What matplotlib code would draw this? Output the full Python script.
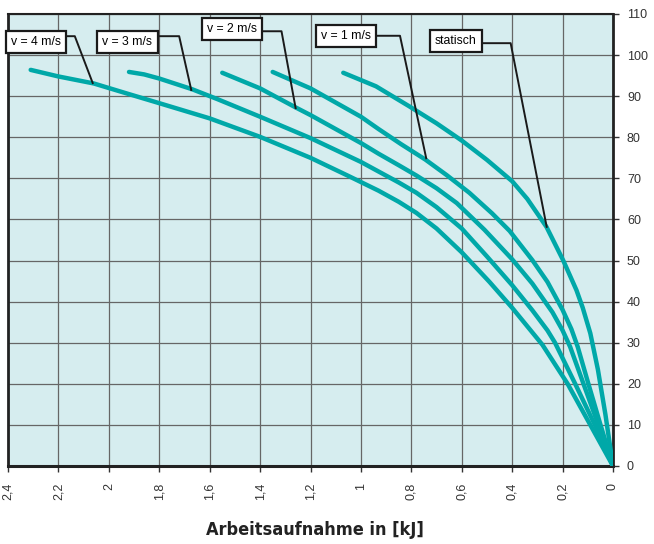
import matplotlib
matplotlib.use('Agg')
import matplotlib.pyplot as plt

# Kennlinien: Arbeitsaufnahme [kJ] / Kraft
v4_x = [2.31, 2.20, 2.06, 1.92, 1.80, 1.60, 1.40, 1.20, 1.05, 0.93, 0.85, 0.78, 0.70, 0.60,
        0.49, 0.40, 0.34, 0.28, 0.18, 0.09, 0.0]
v4_y = [96.4, 94.8, 93.1, 90.5, 88.3, 84.6, 80.1, 75.0, 70.6, 67.0, 64.3, 61.6, 57.8, 52.0,
        44.8, 38.5, 34.0, 29.5, 20.0, 10.0, 0.0]

v3_x = [1.92, 1.86, 1.80, 1.67, 1.57, 1.40, 1.20, 1.00, 0.85, 0.78, 0.70, 0.60, 0.50,
        0.40, 0.32, 0.26, 0.23, 0.15, 0.072, 0.0]
v3_y = [95.9, 95.3, 94.3, 91.7, 89.3, 85.0, 79.8, 74.0, 69.0, 66.5, 63.0, 57.8, 51.0,
        44.0, 37.9, 33.0, 30.0, 20.0, 10.0, 0.0]

v2_x = [1.55, 1.40, 1.26, 1.20, 1.00, 0.93, 0.85, 0.78, 0.70, 0.62, 0.51, 0.40, 0.32,
        0.24, 0.20, 0.17, 0.12, 0.058, 0.0]
v2_y = [95.7, 91.9, 87.3, 85.4, 78.6, 76.0, 73.2, 70.7, 67.6, 64.0, 57.5, 50.3, 44.4,
        37.4, 33.0, 29.0, 20.5, 10.0, 0.0]

v1_x = [1.35, 1.20, 1.00, 0.93, 0.84, 0.745, 0.66, 0.57, 0.48, 0.41, 0.32, 0.26, 0.20,
        0.165, 0.14, 0.10, 0.052, 0.0]
v1_y = [95.9, 91.9, 85.0, 82.0, 78.3, 74.6, 70.8, 66.5, 61.5, 57.2, 50.1, 44.8, 38.0,
        33.3, 29.0, 20.5, 10.5, 0.0]

st_x = [1.07, 0.94, 0.81, 0.70, 0.60, 0.50, 0.40, 0.34, 0.264, 0.198, 0.145, 0.12, 0.09,
        0.06, 0.03, 0.0]
st_y = [95.7, 92.4, 87.6, 83.4, 79.2, 74.5, 69.3, 65.0, 58.2, 50.1, 42.8, 38.5, 32.3,
        23.5, 12.5, 0.0]

curves = [(v4_x, v4_y), (v3_x, v3_y), (v2_x, v2_y), (v1_x, v1_y), (st_x, st_y)]

# Beschriftungen: Text, Boxmitte, Knick der Linie, Endpunkt auf der Kurve
labels = ['v = 4 m/s', 'v = 3 m/s', 'v = 2 m/s', 'v = 1 m/s', 'statisch']
box_pos = [(2.290, 103.2), (1.926, 103.2), (1.510, 106.3), (1.060, 104.6), (0.623, 103.4)]
knee_pos = [(2.135, 104.6), (1.721, 104.6), (1.315, 105.8), (0.845, 104.7), (0.406, 102.9)]
tip_pos = [(2.064, 93.2), (1.673, 91.5), (1.259, 87.1), (0.741, 74.9), (0.263, 58.2)]
box_right = [2.2, 1.85, 1.45, 1.0, 0.55]

xticks = [2.4, 2.2, 2.0, 1.8, 1.6, 1.4, 1.2, 1.0, 0.8, 0.6, 0.4, 0.2, 0.0]
xtick_labels = ['2,4', '2,2', '2', '1,8', '1,6', '1,4', '1,2', '1', '0,8', '0,6', '0,4', '0,2', '0']
yticks = list(range(0, 111, 10))

teal = '#00a8a8'

fig = plt.figure(figsize=(6.54, 5.44), dpi=100)
ax = fig.add_axes([8 / 654, 78 / 544, 605 / 654, 452 / 544])
ax.set_facecolor('#d6edef')

for cx, cy in curves:
    ax.plot(cx, cy, color=teal, lw=3.2, solid_capstyle='round', solid_joinstyle='round',
            zorder=3)

for txt, bp, kp, tp, br in zip(labels, box_pos, knee_pos, tip_pos, box_right):
    ax.plot([br, kp[0], tp[0]], [kp[1], kp[1], tp[1]], color='#1a1a1a', lw=1.4, zorder=4)
    ax.text(bp[0], bp[1], txt, ha='center', va='center', fontsize=8.8,
            family='Liberation Sans', zorder=5, clip_on=False,
            bbox=dict(boxstyle='square,pad=0.42', fc='white', ec='#1a1a1a', lw=1.6))

ax.set_xlim(2.4, 0)
ax.set_ylim(0, 110)
ax.set_xticks(xticks)
ax.set_xticklabels(xtick_labels, rotation=90, fontsize=9, family='Liberation Sans',
                   color='#333333')
ax.set_yticks(yticks)
ax.set_yticklabels([str(v) for v in yticks], fontsize=9, family='Liberation Sans',
                   color='#333333')
ax.yaxis.tick_right()
ax.tick_params(axis='y', direction='out', length=4, width=1, pad=6, color='#333333')
ax.tick_params(axis='x', direction='out', length=4, width=1, pad=8, color='#333333')
ax.grid(True, color='#666666', lw=0.9)
ax.set_axisbelow(True)
for s in ax.spines.values():
    s.set_color('#222222')
    s.set_linewidth(1.5)
ax.spines['bottom'].set_linewidth(2.2)
ax.spines['left'].set_linewidth(2.0)
ax.spines['right'].set_linewidth(2.0)

fig.text(315 / 654, 1 - 530 / 544, 'Arbeitsaufnahme in [kJ]', ha='center', va='center',
         fontsize=13, fontweight='bold', family='DejaVu Sans', fontstretch='condensed',
         color='#222222')

fig.savefig('out.png', dpi=100)
